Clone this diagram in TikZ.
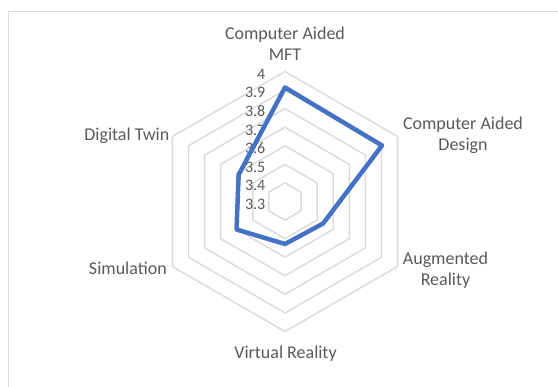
\documentclass[tikz,border=0pt]{standalone}
\usepackage{fontspec}
\setmainfont{Carlito}
\usetikzlibrary{calc}
\definecolor{gridgray}{HTML}{D9D9D9}
\definecolor{txtgray}{HTML}{595959}
\definecolor{serieblue}{HTML}{4472C4}
\begin{document}
\begin{tikzpicture}[x=1pt,y=1pt,
  cat/.style={font=\fontsize{18}{21}\selectfont, text=txtgray, inner sep=0pt, align=center},
  ticklabel/.style={font=\fontsize{16}{19}\selectfont, text=txtgray, inner sep=0pt, anchor=base east},
  ring/.style={draw=gridgray, line width=1.4pt},
  chartframe/.style={draw=gridgray, line width=1.5pt},
  serieline/.style={draw=serieblue, line width=4.5pt, line join=round}]
\useasboundingbox (0,0) rectangle (558,387);
\coordinate (c) at (285,185.5);
% chart frame
\coordinate (f1) at (8.5,0);
\coordinate (f2) at (8.5,375.3);
\coordinate (f3) at (558,375.3);
\draw[chartframe] (f1) -- (f2) -- (f3);
% rings
\foreach \k in {1,...,7}{
  \pgfmathsetmacro{\r}{\k*18.5714}
  \draw[ring, shift={(c)}] (90:\r) -- (30:\r) -- (-30:\r) -- (-90:\r) -- (-150:\r) -- (150:\r) -- cycle;
}
% tick labels
\foreach \v [count=\i from 0] in {4,3.9,3.8,3.7,3.6,3.5,3.4,3.3}{
  \node[ticklabel] (t\i) at (265.5, {387-79.3-\i*18.5714}) {\v};
}
% category labels
\node[cat] (mft) at (285,343) {Computer Aided\\MFT};
\node[cat] (cad) at (463,252) {Computer Aided\\Design};
\node[cat] (ar) at (445.5,116.5) {Augmented\\Reality};
\node[cat, anchor=base] (vr) at (285.5,28.7) {Virtual Reality};
\node[cat, anchor=base east] (sim) at (167,112) {Simulation};
\node[cat, anchor=base east] (dt) at (169.5,246.3) {Digital Twin};
% data series
\coordinate (p1) at ($(c)+(90:114)$);
\coordinate (p2) at ($(c)+(30:112)$);
\coordinate (p3) at ($(c)+(-30:44)$);
\coordinate (p4) at ($(c)+(-90:42.5)$);
\coordinate (p5) at ($(c)+(-150:56)$);
\coordinate (p6) at ($(c)+(150:53.5)$);
\draw[serieline] (p1) -- (p2) -- (p3) -- (p4) -- (p5) -- (p6) -- cycle;
\end{tikzpicture}
\end{document}
